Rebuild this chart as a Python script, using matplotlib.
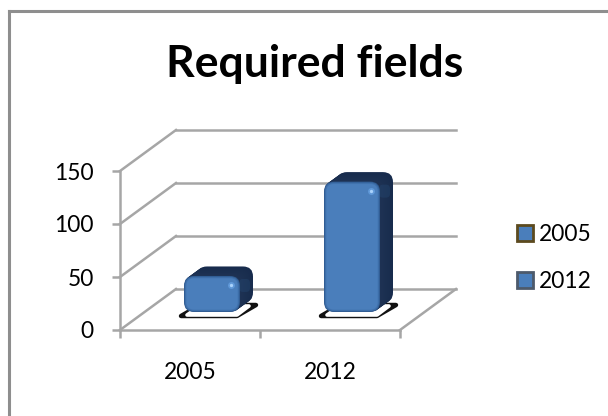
import matplotlib
matplotlib.use("Agg")
import matplotlib.pyplot as plt
import numpy as np
from matplotlib.lines import Line2D
from matplotlib.patches import FancyBboxPatch, Patch, Polygon

plt.rcParams['font.family'] = ['Lato', 'DejaVu Sans']

# values
categories = ['2005', '2012']
values = [34, 123]
y_ticks = [0, 50, 100, 150]
legend_edges = ['#5c4a1e', '#4d5a6b']

W, H = 608, 416
fig = plt.figure(figsize=(W / 100, H / 100), dpi=100)
fig.patch.set_facecolor('white')

# frame of the chart, only top and left are inside the image
fig.add_artist(Line2D([9 / W, 9 / W], [0, 1 - 11 / H], color='#8e8e8e', lw=2.2,
                      transform=fig.transFigure, solid_capstyle='projecting'))
fig.add_artist(Line2D([9 / W, 1], [1 - 11 / H, 1 - 11 / H], color='#8e8e8e', lw=2.2,
                      transform=fig.transFigure, solid_capstyle='projecting'))

# front plane of the box: x 120-400 px, y 330-171 px
ax = fig.add_axes([120 / W, 1 - 330 / H, 280 / W, 159 / H])
ax.set_xlim(0, 2)
ax.set_ylim(0, 150)
ax.patch.set_visible(False)

px_x = 280 / 2      # px for one x unit
px_y = 159 / 150    # px for one y unit
aspect = px_x / px_y

gray = '#a6a6a6'
lw = 1.8
depth_x = 56 / px_x
depth_y = 41 / px_y

# back wall lines and the slanted ones on the side wall
for v in y_ticks:
    ax.plot([depth_x, 2 + depth_x], [v + depth_y, v + depth_y], color=gray, lw=lw, clip_on=False, zorder=1)
    ax.plot([0, depth_x], [v, v + depth_y], color=gray, lw=lw, clip_on=False, zorder=1)
ax.plot([2, 2 + depth_x], [0, depth_y], color=gray, lw=lw, clip_on=False, zorder=1)

for s in ['top', 'right']:
    ax.spines[s].set_visible(False)
for s in ['left', 'bottom']:
    ax.spines[s].set_color(gray)
    ax.spines[s].set_linewidth(lw)
ax.set_yticks(y_ticks)
ax.set_xticks([0, 1, 2])
ax.set_xticklabels([])
ax.tick_params(axis='both', color=gray, width=lw, length=5.8, labelsize=16.4, labelcolor='black')
ax.tick_params(axis='y', pad=13)
for i, c in enumerate(categories):
    ax.text(i + 0.5, -40.5, c, ha='center', va='center', fontsize=16.4, clip_on=False)

# bar position inside the depth of the box
front_dx = 22 / px_x
front_dy = 18 / px_y
bar_dx = 13 / px_x
bar_dy = 9.5 / px_y
half_w = 28 / px_x
r = 10 / px_x


def rounded(x0, x1, y0, h, inset, shift_x=0, shift_y=0, **kw):
    rr = r - inset / px_x
    return FancyBboxPatch((x0 + r + shift_x, y0 + r * aspect + shift_y), x1 - x0 - 2 * r, h - 2 * r * aspect,
                          boxstyle=f'round,pad={rr},rounding_size={rr}', mutation_aspect=aspect,
                          edgecolor='none', clip_on=False, **kw)


for i, v in enumerate(values):
    x0 = i + 0.5 + front_dx - half_w
    x1 = i + 0.5 + front_dx + half_w
    y0 = front_dy

    # white patch with dark rim on the floor
    ax.add_patch(Polygon([(x0 - 3 / px_x, y0 - 4 / px_y), (x1 - 3 / px_x, y0 - 4 / px_y),
                          (x1 + 16 / px_x, y0 + 7 / px_y), (x0 + 16 / px_x, y0 + 7 / px_y)],
                         closed=True, facecolor='#111111', edgecolor='#111111', linewidth=3.2,
                         joinstyle='round', zorder=2, clip_on=False))
    ax.add_patch(Polygon([(x0 + 3 / px_x, y0 - 3 / px_y), (x1 - 3 / px_x, y0 - 3 / px_y),
                          (x1 + 9 / px_x, y0 + 6 / px_y), (x0 + 16 / px_x, y0 + 6 / px_y)],
                         closed=True, facecolor='white', edgecolor='white', linewidth=2.6,
                         joinstyle='round', zorder=2.1, clip_on=False))

    # extruded dark body, back to front
    for t in np.linspace(1, 0.05, 14):
        col = np.array([0.09, 0.17, 0.30]) + 0.03 * (1 - t)
        ax.add_patch(rounded(x0, x1, y0, v, 0, t * bar_dx, t * bar_dy, facecolor=col, zorder=3))
    # lighter round part on the upper right of the side
    ax.add_patch(FancyBboxPatch((x1 + 3 / px_x, y0 + v - 12 / px_y), 3 / px_x, 5 / px_y,
                                boxstyle=f'round,pad={4 / px_x},rounding_size={4 / px_x}',
                                mutation_aspect=aspect, facecolor='#24466f', edgecolor='none',
                                alpha=0.45, zorder=3.2, clip_on=False))

    # front face, soft dark rim going to the fill
    rim_colors = ['#2f5a90', '#3a6ba5', '#4274b0', '#4a7ebb']
    for k, col in enumerate(rim_colors):
        ax.add_patch(rounded(x0, x1, y0, v, k * 0.8, facecolor=col, zorder=4 + k * 0.1))
    # small highlight near the top right corner
    hx, hy = x1 - 9 / px_x, y0 + v - 9 / px_y
    ax.plot([hx], [hy], 'o', ms=5, color='#5f98d8', mec='none', zorder=4.6, clip_on=False)
    ax.plot([hx], [hy], 'o', ms=2.4, color='#a9d2fb', mec='none', zorder=4.7, clip_on=False)

fig.text(314.5 / W, 1 - 77 / H, 'Required fields', ha='center', va='baseline',
         fontsize=32, fontweight='bold', color='black')

handles = [Patch(facecolor='#4a7ebb', edgecolor=e, linewidth=2) for e in legend_edges]
fig.legend(handles, categories, loc='center left', bbox_to_anchor=(517 / W, 1 - 258 / H),
           bbox_transform=fig.transFigure, frameon=False, fontsize=16.4, handlelength=0.7,
           handleheight=0.7, handletextpad=0.28, labelspacing=1.15, borderpad=0, borderaxespad=0)

fig.savefig('out.png', dpi=100)
